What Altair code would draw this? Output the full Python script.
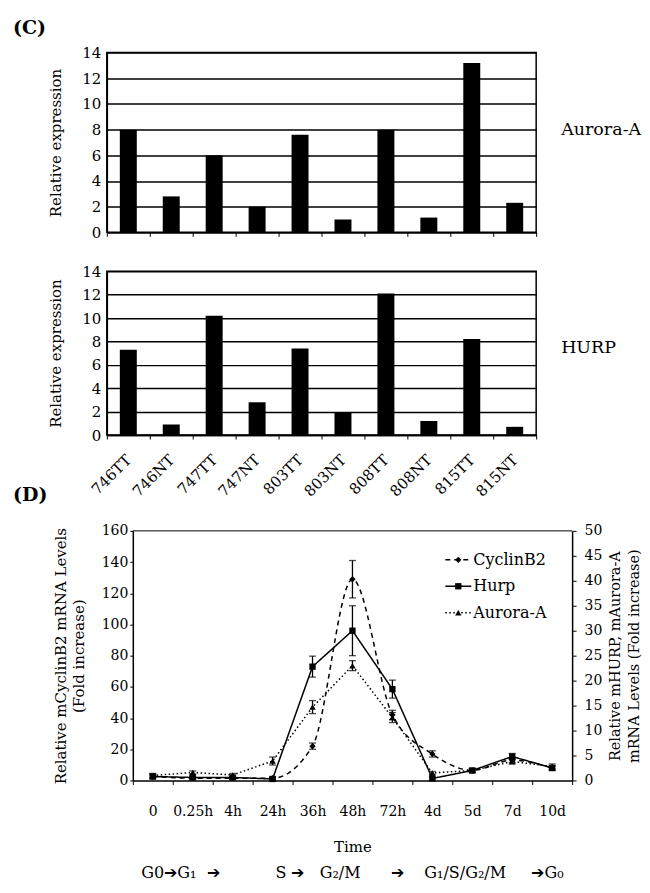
import altair as alt
import pandas as pd

# ---------------- data ----------------
samples = ["746TT", "746NT", "747TT", "747NT", "803TT", "803NT", "808TT", "808NT", "815TT", "815NT"]
aurora_expr = [8.0, 2.8, 6.0, 2.0, 7.6, 1.0, 8.0, 1.15, 13.2, 2.3]
hurp_expr = [7.3, 0.9, 10.2, 2.8, 7.4, 1.9, 12.1, 1.2, 8.2, 0.7]

times = ["0", "0.25h", "4h", "24h", "36h", "48h", "72h", "4d", "5d", "7d", "10d"]
cyclin_b2 = [2.5, 1.5, 1.5, 1.5, 22, 129, 42, 17, 6.5, 13, 8]
cyclin_b2_err = [1.0, 0.8, 0.8, 0.8, 2.0, 12, 3.0, 2.0, 1.0, 1.5, 1.0]
hurp_level = [0.8, 0.6, 0.6, 0.3, 22.8, 30, 18.3, 0.4, 2.0, 4.8, 2.5]
hurp_level_err = [0.5, 0.3, 0.3, 0.3, 2.1, 5.0, 1.8, 0.3, 0.4, 0.6, 0.5]
aurora_level = [1.0, 1.6, 1.1, 3.9, 14.7, 23, 12.6, 1.5, 2.0, 3.8, 2.8]
aurora_level_err = [0.4, 0.3, 0.3, 0.8, 1.3, 1.0, 1.0, 0.3, 0.4, 0.5, 0.5]

series_names = ["CyclinB2", "Hurp", "Aurora-A"]
series_markers = ["diamond", "square", "triangle-up"]
series_dashes = [[5, 4], [1, 0], [1.5, 2.5]]
NB = "\u00a0"
cycle_text = ("G0➔G₁" + NB * 2 + "➔" + NB * 11 + "S" + NB + "➔" + NB * 3 + "G₂/M" + NB * 6
              + "➔" + NB * 4 + "G₁/S/G₂/M" + NB * 5 + "➔G₀")

SERIF = "DejaVu Serif"


# ---------------- panel C ----------------
def bar_panel(values, gene, height, show_labels, tag, tag_y, gene_y):
    df = pd.DataFrame({"sample": samples, "value": values})
    if show_labels:
        x_axis = alt.Axis(title=None, labels=True, labelAngle=315, labelAlign="right",
                          labelBaseline="middle", labelPadding=18, labelFont=SERIF,
                          labelFontSize=15, labelColor="black", ticks=True, tickBand="extent",
                          tickSize=4, tickColor="black", domainColor="black", domainWidth=1.5)
    else:
        x_axis = alt.Axis(title=NB, titleFontSize=6, titlePadding=2, labels=False, ticks=True,
                          tickBand="extent", tickSize=4, tickColor="black",
                          domainColor="black", domainWidth=1.5)
    y_axis = alt.Axis(title="Relative expression", values=list(range(0, 15, 2)), grid=True,
                      gridColor="black", gridWidth=1.5, ticks=False, labelPadding=6,
                      labelFont=SERIF, labelFontSize=15, labelColor="black",
                      titleFont=SERIF, titleFontSize=15, titleFontWeight="normal",
                      titleColor="black", titlePadding=18, domainColor="black", domainWidth=1.5)
    bars = alt.Chart(df).mark_bar(color="black", size=17).encode(
        x=alt.X("sample:N", sort=samples, scale=alt.Scale(paddingInner=0, paddingOuter=0), axis=x_axis),
        y=alt.Y("value:Q", scale=alt.Scale(domain=[0, 14], nice=False), axis=y_axis),
    )
    gene_text = alt.Chart(pd.DataFrame({"label": [gene]})).mark_text(
        align="left", baseline="middle", font=SERIF, fontSize=17.5, color="black"
    ).encode(text="label:N", x=alt.value(455), y=alt.value(gene_y))
    tag_text = alt.Chart(pd.DataFrame({"label": [tag]})).mark_text(
        align="left", baseline="middle", font=SERIF, fontSize=19, fontWeight="bold", color="black"
    ).encode(text="label:N", x=alt.value(-94), y=alt.value(tag_y))
    return alt.layer(bars, gene_text, tag_text).properties(width=430, height=height)


c1 = bar_panel(aurora_expr, "Aurora-A", 180, False, "(C)", -25, 78)
c2 = bar_panel(hurp_expr, "HURP", 164, True, "(D)", 224, 77)

# ---------------- panel D ----------------
rows = []
for name, vals, errs in [("CyclinB2", cyclin_b2, cyclin_b2_err),
                         ("Hurp", hurp_level, hurp_level_err),
                         ("Aurora-A", aurora_level, aurora_level_err)]:
    for t, v, e in zip(times, vals, errs):
        rows.append({"time": t, "series": name, "value": v, "lo": max(v - e, 0), "hi": v + e})
df = pd.DataFrame(rows)
df_left = df[df.series == "CyclinB2"]
df_right = df[df.series != "CyclinB2"]

x_enc = alt.X("time:N", sort=times,
              scale=alt.Scale(range=[26, 466], paddingInner=0, paddingOuter=0),
              axis=alt.Axis(title="Time", labelAngle=0, labelFont=SERIF,
                            labelFontSize=14, labelColor="black", labelPadding=20,
                            tickBand="extent", ticks=True, tickSize=4, tickColor="black",
                            domainColor="black", domainWidth=1.5, titleFont=SERIF,
                            titleFontSize=15, titleFontWeight="normal", titleColor="black",
                            titlePadding=21))

dash = alt.StrokeDash("series:N", scale=alt.Scale(domain=series_names, range=series_dashes),
                      legend=None)

left_axis = alt.Axis(title=["Relative mCyclinB2 mRNA Levels", "(Fold increase)"], orient="left",
                     values=list(range(0, 161, 20)), offset=-26, grid=False, ticks=True, tickSize=3,
                     tickColor="black", labelFont=SERIF, labelFontSize=14, labelColor="black",
                     labelPadding=2, domainColor="black", domainWidth=1.5, titleFont=SERIF,
                     titleFontSize=15, titleFontWeight="normal", titleColor="black",
                     titleLineHeight=18, titleAngle=270, titleBaseline="bottom",
                     titleAlign="center", titleX=-64, titleY=125)
right_axis = alt.Axis(title=["Relative mHURP, mAurora-A", "mRNA Levels (Fold increase)"],
                      orient="right", values=list(range(0, 51, 5)), grid=False, ticks=True,
                      tickSize=4, tickColor="black", labelFont=SERIF, labelFontSize=14,
                      labelColor="black", labelPadding=8, domainColor="black", domainWidth=1.5,
                      titleFont=SERIF, titleFontSize=14.5, titleFontWeight="normal",
                      titleColor="black", titleLineHeight=19, titleAngle=270,
                      titleBaseline="top", titleAlign="center", titleX=36, titleY=125)


def group(data, names, domain, axis, interp):
    base = alt.Chart(data)
    ysc = alt.Scale(domain=domain, nice=False)
    layers = [
        base.mark_line(color="black", strokeWidth=1.5, interpolate=interp).encode(
            x=x_enc, y=alt.Y("value:Q", scale=ysc, axis=axis), strokeDash=dash, detail="series:N"),
        base.mark_rule(color="black", strokeWidth=1.3).encode(
            x=x_enc, y=alt.Y("lo:Q", scale=ysc, axis=axis), y2="hi:Q"),
        base.mark_tick(color="black", size=7, thickness=1.3).encode(
            x=x_enc, y=alt.Y("lo:Q", scale=ysc, axis=axis)),
        base.mark_tick(color="black", size=7, thickness=1.3).encode(
            x=x_enc, y=alt.Y("hi:Q", scale=ysc, axis=axis)),
    ]
    for nm in names:
        mk = series_markers[series_names.index(nm)]
        layers.append(
            base.transform_filter(alt.datum.series == nm).mark_point(
                filled=True, color="black", size=40, opacity=1, shape=mk).encode(
                x=x_enc, y=alt.Y("value:Q", scale=ysc, axis=axis)))
    return layers


left_layers = group(df_left, ["CyclinB2"], [0, 160], left_axis, "monotone")
right_layers = group(df_right, ["Hurp", "Aurora-A"], [0, 50], right_axis, "linear")

# hand-built legend (line sample + marker + name) in the upper right of the plot
legend_layers = []
for i, nm in enumerate(series_names):
    one = alt.Chart(pd.DataFrame({"series": [nm]}))
    ry = 29 + 26.5 * i
    legend_layers.append(one.mark_rule(color="black", strokeWidth=1.5,
                                       strokeDash=series_dashes[i]).encode(
        x=alt.value(339), x2=alt.value(365), y=alt.value(ry)))
    legend_layers.append(one.mark_point(filled=True, color="black", size=40, opacity=1,
                                        shape=series_markers[i]).encode(
        x=alt.value(352), y=alt.value(ry)))
    legend_layers.append(one.mark_text(align="left", baseline="middle", font=SERIF, fontSize=16,
                                       color="black").encode(
        text="series:N", x=alt.value(367), y=alt.value(ry)))

frame_top = alt.Chart(pd.DataFrame({"frame": ["top"]})).mark_rule(color="black", strokeWidth=1).encode(
    x=alt.value(26), x2=alt.value(466), y=alt.value(0))

cycle = alt.Chart(pd.DataFrame({"label": [cycle_text]})).mark_text(
    align="center", baseline="middle", font=SERIF, fontSize=16, color="black").encode(
    text="label:N", x=alt.value(246), y=alt.value(343))

left_group = alt.layer(*left_layers, *legend_layers, frame_top, cycle)
right_group = alt.layer(*right_layers)

d = alt.layer(left_group, right_group).resolve_scale(y="independent").properties(
    width=466, height=250, view=alt.ViewBackground(stroke="transparent"))

chart = alt.vconcat(c1, c2, d, spacing=17).properties(
    padding={"left": 4, "top": 9, "right": 0, "bottom": 0}
).configure_view(stroke="black", strokeWidth=1.5)

chart.save("out.html", embed_options={"renderer": "svg", "actions": False})
